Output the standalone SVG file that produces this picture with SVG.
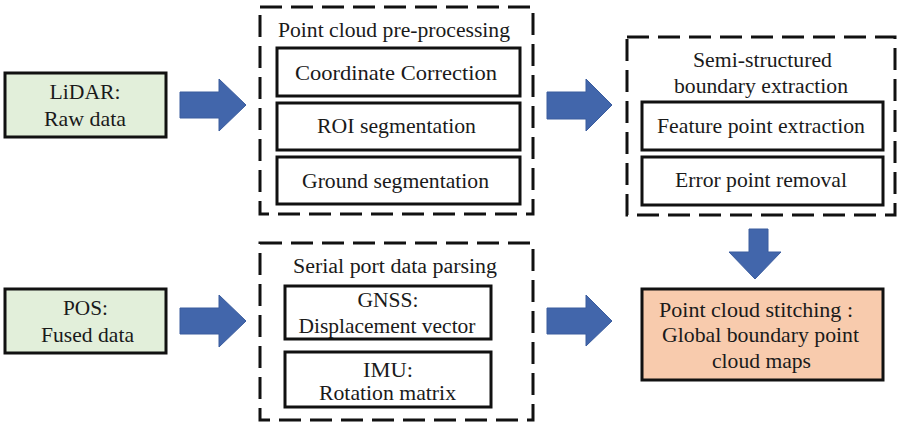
<svg xmlns="http://www.w3.org/2000/svg" width="897" height="424" viewBox="0 0 897 424" font-family="'Liberation Serif', 'Times New Roman', 'DejaVu Serif', serif">
  <style>
    text { font-family: 'Liberation Serif', 'Times New Roman', 'DejaVu Serif', serif; font-size: 21px; fill: #1a1a1a; text-anchor: middle; }
    .title { font-size: 20px; }
    .src { fill: #e2efda; stroke: #111; stroke-width: 3; }
    .step { fill: #fff; stroke: #111; stroke-width: 3; }
    .out { fill: #f8cbad; stroke: #111; stroke-width: 3; }
    .group { fill: none; stroke: #111; stroke-width: 3; stroke-dasharray: 22 9; }
    .flow { fill: #4266ab; stroke: #3a5c9e; stroke-width: 1; }
  </style>

  <!-- input sources -->
  <g id="lidar">
    <rect class="src" x="5" y="73" width="161" height="64"/>
    <text x="85" y="99" textLength="71" lengthAdjust="spacingAndGlyphs">LiDAR:</text>
    <text x="85" y="126" textLength="82" lengthAdjust="spacingAndGlyphs">Raw data</text>
  </g>
  <g id="pos">
    <rect class="src" x="5" y="289" width="161" height="64"/>
    <text x="85.5" y="315" textLength="45" lengthAdjust="spacingAndGlyphs">POS:</text>
    <text x="87.5" y="342" textLength="93" lengthAdjust="spacingAndGlyphs">Fused data</text>
  </g>

  <!-- point cloud pre-processing stage -->
  <g id="preprocessing">
    <rect class="group" x="260" y="7" width="273" height="207"/>
    <text class="title" x="394" y="37" textLength="232" lengthAdjust="spacingAndGlyphs">Point cloud pre-processing</text>
    <rect class="step" x="277" y="48" width="243" height="48"/>
    <text x="396" y="80" textLength="202" lengthAdjust="spacingAndGlyphs">Coordinate  Correction</text>
    <rect class="step" x="277" y="103" width="243" height="47"/>
    <text x="396.5" y="133" textLength="159" lengthAdjust="spacingAndGlyphs">ROI segmentation</text>
    <rect class="step" x="277" y="157" width="243" height="47"/>
    <text x="395.5" y="188" textLength="187" lengthAdjust="spacingAndGlyphs">Ground segmentation</text>
  </g>

  <!-- serial port data parsing stage -->
  <g id="parsing">
    <rect class="group" x="260" y="243" width="273" height="177"/>
    <text class="title" x="395" y="273" textLength="204" lengthAdjust="spacingAndGlyphs">Serial port data parsing</text>
    <rect class="step" x="285" y="286" width="206" height="53"/>
    <text x="388" y="307" textLength="61" lengthAdjust="spacingAndGlyphs">GNSS:</text>
    <text x="387" y="333" textLength="177" lengthAdjust="spacingAndGlyphs">Displacement vector</text>
    <rect class="step" x="285" y="352" width="206" height="55"/>
    <text x="388" y="377" textLength="50" lengthAdjust="spacingAndGlyphs">IMU:</text>
    <text x="387.5" y="400" textLength="137" lengthAdjust="spacingAndGlyphs">Rotation matrix</text>
  </g>

  <!-- boundary extraction stage -->
  <g id="extraction">
    <rect class="group" x="627" y="37" width="268" height="178"/>
    <text class="title" x="762.5" y="67" textLength="139" lengthAdjust="spacingAndGlyphs">Semi-structured</text>
    <text class="title" x="761" y="93" textLength="174" lengthAdjust="spacingAndGlyphs">boundary extraction</text>
    <rect class="step" x="642" y="102" width="241" height="48"/>
    <text x="761" y="133" textLength="208" lengthAdjust="spacingAndGlyphs">Feature point extraction</text>
    <rect class="step" x="642" y="157" width="241" height="48"/>
    <text x="761" y="187" textLength="172" lengthAdjust="spacingAndGlyphs">Error point removal</text>
  </g>

  <!-- result -->
  <g id="stitching">
    <rect class="out" x="642" y="289" width="241" height="91"/>
    <text x="756" y="317" textLength="194" lengthAdjust="spacingAndGlyphs">Point cloud stitching :</text>
    <text x="760.5" y="342" textLength="197" lengthAdjust="spacingAndGlyphs">Global boundary point</text>
    <text x="761.5" y="368" textLength="99" lengthAdjust="spacingAndGlyphs">cloud maps</text>
  </g>

  <!-- block arrows between stages -->
  <g id="connectors">
    <polygon class="flow" points="180,92 219,92 219,79 246,105 219,131 219,118 180,118"/>
    <polygon class="flow" points="180,308 219,308 219,295 246,321 219,347 219,334 180,334"/>
    <polygon class="flow" points="547,92 586,92 586,79 612,105 586,131 586,119 547,119"/>
    <polygon class="flow" points="547,308 586,308 586,295 612,321 586,346 586,334 547,334"/>
    <polygon class="flow" points="749,229 768,229 768,252 781,252 755,279 729,252 749,252"/>
  </g>
</svg>
